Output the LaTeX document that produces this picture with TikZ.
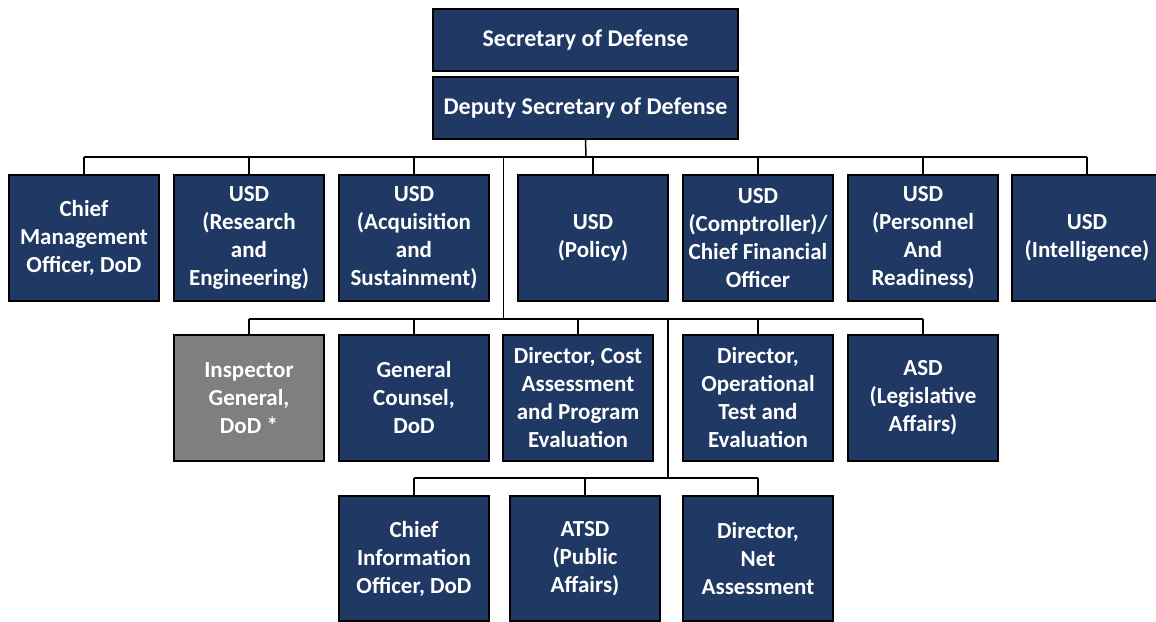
\documentclass[tikz,border=0pt]{standalone}
\usepackage{fontspec}
\setmainfont{Carlito}
\usepackage{tikz}
\usetikzlibrary{positioning}
\definecolor{navy}{HTML}{1F3864}
\definecolor{greybox}{HTML}{7F7F7F}

\begin{document}
\begin{tikzpicture}[
		x=1pt, y=-1pt,
		node distance=15pt,  % gap between boxes in a row
		box/.style={rectangle, draw=black, line width=1.5pt, outer sep=0pt, fill=navy, text=white, minimum width=150pt, minimum height=126pt, align=center, inner sep=2pt, font=\bfseries\fontsize{23}{28}\selectfont},
		topbox/.style={box, minimum width=305pt, minimum height=62pt, font=\bfseries\fontsize{24}{28}\selectfont},
		greybox/.style={box, fill=greybox},
		link/.style={draw=black, line width=1.5pt}
		]
		\useasboundingbox (0,0) rectangle (1156,621);
		% top of the chart
		\node[topbox] (secdef) at (585.5,40) {Secretary of Defense};
		\node[topbox, below=6pt of secdef] (depsec) {Deputy Secretary of Defense};
		% second row - the under secretaries
		\node[box] (cmo) at (84,238) {Chief\\Management\\Officer, DoD};
		\node[box, right=of cmo] (usdre) {USD\\(Research\\and\\Engineering)};
		\node[box, right=of usdre] (usdas) {USD\\(Acquisition\\and\\Sustainment)};
		\node[box, right=29pt of usdas] (usdp) {USD\\(Policy)};
		\node[box, right=of usdp] (usdc) {USD\\(Comptroller)/\\Chief Financial\\Officer};
		\node[box, right=of usdc] (usdpr) {USD\\(Personnel\\And\\Readiness)};
		\node[box, right=14pt of usdpr] (usdi) {USD\\(Intelligence)};
		% third row
		\node[greybox] (ig) at (249,398) {Inspector\\General,\\DoD *};
		\node[box, right=of ig] (gc) {General\\Counsel,\\DoD};
		\node[box, right=14pt of gc] (cape) {Director, Cost\\Assessment\\and Program\\Evaluation};
		\node[box, right=30pt of cape] (dote) {Director,\\Operational\\Test and\\Evaluation};
		\node[box, right=of dote] (asdla) {ASD\\(Legislative\\Affairs)};
		% fourth row
		\node[box, minimum height=125pt] (cio) at (414,558.5) {Chief\\Information\\Officer, DoD};
		\node[box, minimum height=125pt, right=21pt of cio] (atsd) {ATSD\\(Public\\Affairs)};
		\node[box, minimum height=125pt, right=23pt of atsd] (dna) {Director,\\Net\\Assessment};
		% bus lines
		\coordinate (bus1) at (586,157);
		\coordinate (bus2) at (503.5,319);
		\coordinate (bus3) at (668,478);
		% deputy down to the second row
		\draw[link] (depsec.south) -- (bus1);
		\draw[link] (bus1 -| cmo) -- (bus1 -| usdi);
		\draw[link] (bus1 -| cmo) -- (cmo.north);
		\draw[link] (bus1 -| usdre) -- (usdre.north);
		\draw[link] (bus1 -| usdas) -- (usdas.north);
		\draw[link] (bus1 -| usdp) -- (usdp.north);
		\draw[link] (bus1 -| usdc) -- (usdc.north);
		\draw[link] (bus1 -| usdpr) -- (usdpr.north);
		\draw[link] (bus1 -| usdi) -- (usdi.north);
		% trunk down to the third row
		\draw[link] (bus2 |- bus1) -- (bus2);
		\draw[link] (bus2 -| ig) -- (bus2 -| asdla);
		\draw[link] (bus2 -| ig) -- (ig.north);
		\draw[link] (bus2 -| gc) -- (gc.north);
		\draw[link] (bus2 -| cape) -- (cape.north);
		\draw[link] (bus2 -| dote) -- (dote.north);
		\draw[link] (bus2 -| asdla) -- (asdla.north);
		% trunk down to the fourth row
		\draw[link] (bus3 |- bus2) -- (bus3);
		\draw[link] (bus3 -| cio) -- (bus3 -| dna);
		\draw[link] (bus3 -| cio) -- (cio.north);
		\draw[link] (bus3 -| atsd) -- (atsd.north);
		\draw[link] (bus3 -| dna) -- (dna.north);
	\end{tikzpicture}
\end{document}
